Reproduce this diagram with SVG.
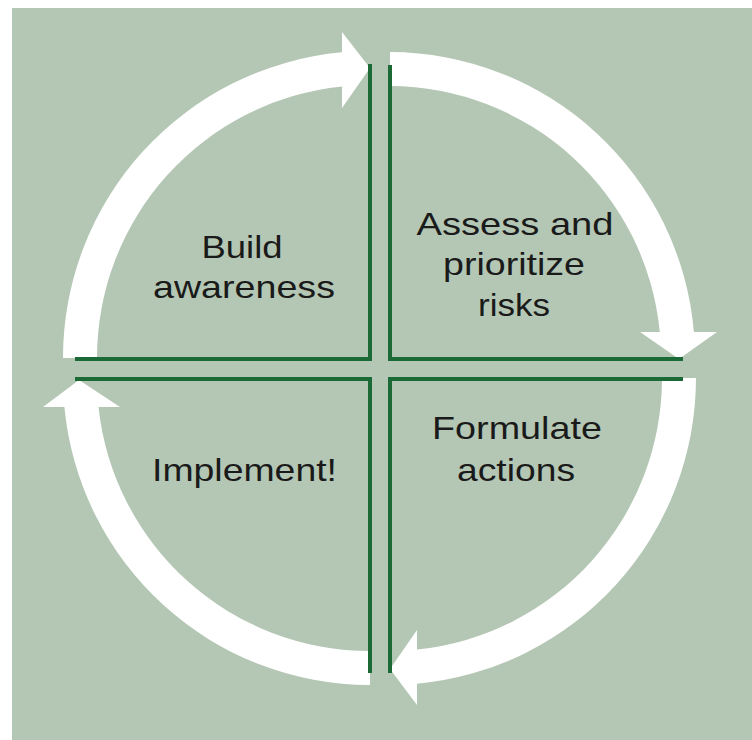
<svg xmlns="http://www.w3.org/2000/svg" width="752" height="740" viewBox="0 0 752 740">
<style>
.bg{fill:#b4c7b4}
.arc{fill:#ffffff}
.ln{stroke:#1b6a36;stroke-width:4;fill:none;stroke-linecap:butt}
.lbl{font-family:"Liberation Sans",Arial,sans-serif;font-size:32px;fill:#1a1a1a;text-anchor:middle}
</style>
<rect class="bg" x="12" y="8" width="740" height="732"/>
<g id="connectors">
<path id="arc-tl" class="arc" d="M 63 358 A 307 307 0 0 1 342 52.3 L 342 32 L 370 68 L 342 108 L 342 86.4 A 273 273 0 0 0 97 358 Z"/>
<path id="arc-tr" class="arc" d="M 390 52 A 306 306 0 0 1 693.9 332 L 717 332 L 679 359 L 640 332 L 659.8 332 A 272 272 0 0 0 390 86 Z"/>
<path id="arc-br" class="arc" d="M 696 378 A 307 307 0 0 1 417 683.7 L 417 705 L 390 669 L 417 630 L 417 649.6 A 273 273 0 0 0 662 378 Z"/>
<path id="arc-bl" class="arc" d="M 370 685 A 307 307 0 0 1 64.4 407 L 43 407 L 79 380 L 120 407 L 98.5 407 A 273 273 0 0 0 370 651 Z"/>
</g>
<g id="node-build">
<path class="ln" d="M 370 64 L 370 359 L 75 359"/>
<text class="lbl" x="242" y="258" textLength="81" lengthAdjust="spacingAndGlyphs">Build</text>
<text class="lbl" x="244" y="298" textLength="182" lengthAdjust="spacingAndGlyphs">awareness</text>
</g>
<g id="node-assess">
<path class="ln" d="M 390 65 L 390 359 L 683 359"/>
<text class="lbl" x="515" y="235" textLength="197" lengthAdjust="spacingAndGlyphs">Assess and</text>
<text class="lbl" x="514" y="275" textLength="142" lengthAdjust="spacingAndGlyphs">prioritize</text>
<text class="lbl" x="514" y="316" textLength="72" lengthAdjust="spacingAndGlyphs">risks</text>
</g>
<g id="node-formulate">
<path class="ln" d="M 683 379 L 390 379 L 390 673"/>
<text class="lbl" x="517" y="439" textLength="170" lengthAdjust="spacingAndGlyphs">Formulate</text>
<text class="lbl" x="516" y="481" textLength="118" lengthAdjust="spacingAndGlyphs">actions</text>
</g>
<g id="node-implement">
<path class="ln" d="M 75 379 L 370 379 L 370 673"/>
<text class="lbl" x="244.5" y="481" textLength="185" lengthAdjust="spacingAndGlyphs">Implement!</text>
</g>
</svg>
